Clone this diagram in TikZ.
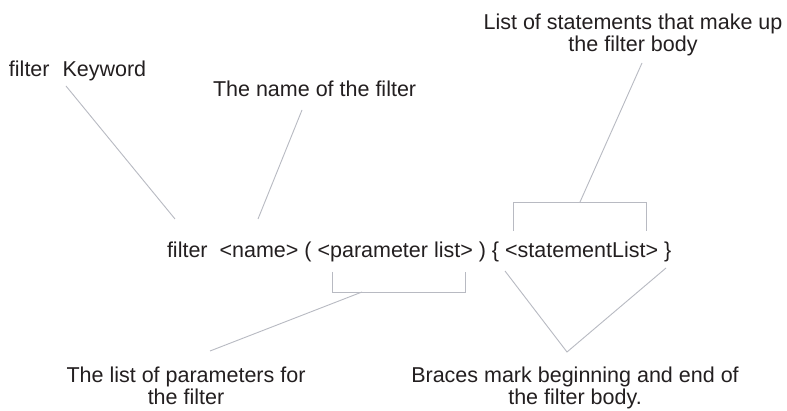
\documentclass[tikz,border=0pt]{standalone}
\usepackage{fontspec}
\setmainfont{Liberation Sans}
\definecolor{txt}{HTML}{231F20}
\definecolor{lead}{HTML}{B8BAC2}
\begin{document}
\begin{tikzpicture}[x=1pt,y=-1pt,
  lbl/.style={inner sep=0pt,outer sep=0pt,text=txt,font=\fontsize{21.5}{22}\selectfont},
  lbltwo/.style={lbl,align=center},
  leader/.style={draw=lead,line width=0.9pt,line join=miter}]
\useasboundingbox[fill=white] (0,0) rectangle (787,411);

% labels (two-line nodes are anchored at the baseline of their last line)
\node[lbl,anchor=base west] (kw) at (9,77) {filter\hspace{0.6em}Keyword};
\node[lbl,anchor=base west] (nm) at (213,97) {The name of the filter};
\node[lbltwo,anchor=base] (st) at (633,52) {List of statements that make up\\the filter body};
\node[lbl,anchor=base west] (main) at (167,258) {filter\ \ <name> ( <parameter list> ) \{ <statementList> \}};
\node[lbltwo,anchor=base] (pl) at (186,405) {The list of parameters for\\the filter};
\node[lbltwo,anchor=base] (br) at (575,405) {Braces mark beginning and end of\\the filter body.};

% leader end points
\coordinate (kwA) at (66,86);   \coordinate (kwB) at (175,219);
\coordinate (nmA) at (302,110); \coordinate (nmB) at (258,219);
\coordinate (stA) at (642,63);  \coordinate (stB) at (580,202);
\coordinate (sbL) at (513,231); \coordinate (sbR) at (646,231);
\coordinate (pbL) at (332,272); \coordinate (pbR) at (465,272);
\coordinate (plA) at (362,292); \coordinate (plB) at (210,351);
\coordinate (bvL) at (505,271); \coordinate (bvA) at (567,352); \coordinate (bvR) at (666,268);

% leaders
\draw[leader] (kwA) -- (kwB);
\draw[leader] (nmA) -- (nmB);
\draw[leader] (stA) -- (stB);
\draw[leader] (sbL) |- (sbR |- stB) -- (sbR);
\draw[leader] (pbL) |- (pbR |- plA) -- (pbR);
\draw[leader] (plA) -- (plB);
\draw[leader] (bvL) -- (bvA) -- (bvR);
\end{tikzpicture}
\end{document}
